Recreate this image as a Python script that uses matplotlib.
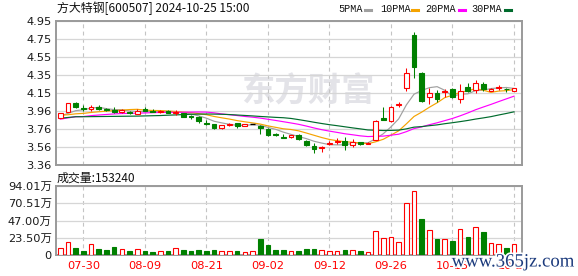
import matplotlib
matplotlib.use('Agg')
import matplotlib.pyplot as plt
import matplotlib.patheffects as pe
from matplotlib.patches import Rectangle
from matplotlib.lines import Line2D
import numpy as np

plt.rcParams['font.family'] = ['DejaVu Sans', 'Noto Sans CJK SC']

# ---------------- data ----------------
dates = ['07-25', '07-26', '07-29', '07-30', '07-31', '08-01', '08-02', '08-05', '08-06', '08-07',
         '08-08', '08-09', '08-12', '08-13', '08-14', '08-15', '08-16', '08-19', '08-20', '08-21',
         '08-22', '08-23', '08-26', '08-27', '08-28', '08-29', '08-30', '09-02', '09-03', '09-04',
         '09-05', '09-06', '09-09', '09-10', '09-11', '09-12', '09-13', '09-18', '09-19', '09-20',
         '09-23', '09-24', '09-25', '09-26', '09-27', '09-30', '10-08', '10-09', '10-10', '10-11',
         '10-14', '10-15', '10-16', '10-17', '10-18', '10-21', '10-22', '10-23', '10-24', '10-25']
tick_dates = ['07-30', '08-09', '08-21', '09-02', '09-12', '09-26', '10-15', '10-25']

opens = [3.882, 3.942, 4.048, 3.993, 3.975, 3.997, 3.975, 3.967, 3.945, 3.940,
         3.927, 3.982, 3.958, 3.949, 3.956, 3.938, 3.931, 3.898, 3.893, 3.827,
         3.813, 3.772, 3.802, 3.820, 3.791, 3.813, 3.791, 3.754, 3.699, 3.666,
         3.666, 3.688, 3.628, 3.573, 3.545, 3.592, 3.611, 3.628, 3.581, 3.611,
         3.592, 3.636, 3.879, 3.849, 4.027, 4.207, 4.795, 4.373, 4.114, 4.158,
         4.166, 4.196, 4.085, 4.225, 4.188, 4.254, 4.177, 4.210, 4.203, 4.180]
highs = [3.935, 4.045, 4.059, 4.019, 4.019, 4.017, 3.993, 3.997, 3.982, 3.953,
         3.973, 3.995, 3.975, 3.971, 3.967, 3.964, 3.938, 3.912, 3.898, 3.857,
         3.816, 3.805, 3.824, 3.827, 3.818, 3.816, 3.802, 3.765, 3.710, 3.699,
         3.695, 3.699, 3.633, 3.600, 3.567, 3.622, 3.661, 3.666, 3.644, 3.617,
         3.611, 3.854, 4.004, 4.011, 4.059, 4.428, 4.825, 4.390, 4.207, 4.188,
         4.196, 4.207, 4.251, 4.262, 4.299, 4.280, 4.210, 4.243, 4.207, 4.210]
lows = [3.875, 3.940, 3.990, 3.960, 3.960, 3.962, 3.951, 3.931, 3.934, 3.923,
        3.923, 3.951, 3.945, 3.938, 3.931, 3.915, 3.890, 3.871, 3.827, 3.802,
        3.758, 3.758, 3.791, 3.765, 3.787, 3.810, 3.699, 3.680, 3.680, 3.655,
        3.662, 3.636, 3.573, 3.496, 3.507, 3.581, 3.592, 3.526, 3.562, 3.586,
        3.589, 3.633, 3.857, 3.838, 4.004, 4.177, 4.324, 4.056, 4.030, 4.059,
        4.114, 4.097, 4.048, 4.170, 4.158, 4.180, 4.177, 4.188, 4.169, 4.180]
closes = [3.931, 4.041, 3.995, 3.975, 3.997, 3.978, 3.967, 3.942, 3.964, 3.929,
          3.960, 3.955, 3.950, 3.960, 3.938, 3.942, 3.893, 3.887, 3.849, 3.816,
          3.769, 3.802, 3.809, 3.794, 3.813, 3.813, 3.765, 3.691, 3.686, 3.658,
          3.691, 3.644, 3.578, 3.537, 3.562, 3.606, 3.628, 3.581, 3.617, 3.592,
          3.606, 3.849, 3.860, 3.997, 4.034, 4.373, 4.445, 4.067, 4.152, 4.089,
          4.172, 4.114, 4.180, 4.175, 4.262, 4.200, 4.202, 4.218, 4.196, 4.207]
# volume in 万手
volumes = [9.5, 17.7, 10.0, 5.9, 15.0, 8.6, 6.8, 10.9, 7.7, 5.9,
           8.2, 5.9, 4.1, 5.0, 5.4, 9.5, 6.8, 5.9, 6.8, 5.4,
           6.8, 5.4, 5.4, 5.4, 3.6, 5.4, 22.0, 13.6, 6.8, 6.8,
           5.4, 5.4, 8.2, 8.2, 6.8, 5.4, 5.4, 6.8, 6.8, 5.4,
           4.1, 32.7, 22.7, 24.1, 17.3, 71.3, 87.2, 49.0, 34.0, 21.8,
           21.8, 19.1, 35.4, 24.5, 37.7, 31.3, 15.9, 14.5, 9.5, 15.324]

ma5 = [3.900, 3.930, 3.960, 3.970, 3.988, 3.997, 3.982, 3.972, 3.970, 3.956,
       3.952, 3.950, 3.952, 3.951, 3.953, 3.949, 3.937, 3.924, 3.902, 3.877,
       3.843, 3.825, 3.809, 3.798, 3.797, 3.806, 3.799, 3.775, 3.754, 3.723,
       3.698, 3.674, 3.651, 3.622, 3.602, 3.585, 3.582, 3.583, 3.599, 3.605,
       3.605, 3.649, 3.705, 3.781, 3.869, 4.023, 4.142, 4.183, 4.214, 4.225,
       4.185, 4.119, 4.141, 4.146, 4.181, 4.186, 4.204, 4.211, 4.216, 4.205]
ma10 = [3.910, 3.915, 3.925, 3.930, 3.940, 3.948, 3.955, 3.960, 3.966, 3.972,
        3.975, 3.966, 3.962, 3.961, 3.955, 3.951, 3.944, 3.938, 3.927, 3.915,
        3.896, 3.881, 3.867, 3.850, 3.837, 3.825, 3.812, 3.792, 3.776, 3.760,
        3.752, 3.737, 3.713, 3.688, 3.663, 3.642, 3.628, 3.617, 3.611, 3.604,
        3.595, 3.616, 3.644, 3.690, 3.737, 3.814, 3.896, 3.944, 3.998, 4.047,
        4.104, 4.131, 4.162, 4.180, 4.203, 4.186, 4.162, 4.176, 4.181, 4.193]
ma20 = [3.866, 3.880, 3.893, 3.895, 3.905, 3.912, 3.918, 3.924, 3.928, 3.930,
        3.932, 3.935, 3.938, 3.940, 3.941, 3.942, 3.943, 3.944, 3.945, 3.944,
        3.936, 3.924, 3.915, 3.906, 3.896, 3.888, 3.878, 3.865, 3.852, 3.838,
        3.824, 3.809, 3.790, 3.769, 3.750, 3.734, 3.720, 3.705, 3.694, 3.682,
        3.674, 3.677, 3.679, 3.689, 3.700, 3.728, 3.762, 3.781, 3.805, 3.826,
        3.850, 3.874, 3.903, 3.935, 3.970, 4.000, 4.029, 4.060, 4.090, 4.120]
ma30 = [3.876, 3.885, 3.893, 3.893, 3.894, 3.895, 3.896, 3.897, 3.898, 3.899,
        3.900, 3.902, 3.904, 3.906, 3.910, 3.913, 3.917, 3.920, 3.922, 3.923,
        3.922, 3.920, 3.917, 3.912, 3.907, 3.902, 3.896, 3.891, 3.886, 3.882,
        3.874, 3.861, 3.847, 3.832, 3.818, 3.805, 3.794, 3.782, 3.770, 3.759,
        3.747, 3.744, 3.741, 3.742, 3.745, 3.759, 3.778, 3.784, 3.794, 3.803,
        3.816, 3.827, 3.839, 3.852, 3.867, 3.880, 3.894, 3.912, 3.929, 3.947]

price_tick_labels = ['3.36', '3.56', '3.76', '3.96', '4.15', '4.35', '4.55', '4.75', '4.95']
price_min, price_max = 3.36, 4.95
vol_ticks = [0, 23.50, 47.00, 70.51, 94.01]
vol_tick_labels = ['0', '23.50万', '47.00万', '70.51万', '94.01万']

title_text = '方大特钢[600507] 2024-10-25 15:00'
vol_text = '成交量:153240'
ma_names = ['5PMA', '10PMA', '20PMA', '30PMA']

# ---------------- style ----------------
RED = '#ff0000'
GREEN = '#008000'
MA_COLORS = ['#a0a0a0', '#f5a300', '#ff00ff', '#006b2d']
GRID = '#d6d6d6'
VGRID = '#c4c4c4'
SPINE = '#9a9a9a'

W, H = 578, 276
fig = plt.figure(figsize=(W / 100, H / 100), dpi=100)
L, R = 56 / W, 522 / W
ax1 = fig.add_axes([L, 1 - 165 / H, R - L, (165 - 21) / H])
ax2 = fig.add_axes([L, 1 - 255 / H, R - L, (255 - 186) / H])

n = len(closes)
x = np.arange(n)
tick_pos = [dates.index(d) for d in tick_dates]

# candles
bw = 0.62
for i in range(n):
    o, h, l, c = opens[i], highs[i], lows[i], closes[i]
    if c > o:
        col = RED
        face = 'white'
    elif c < o:
        col = GREEN
        face = GREEN
    else:
        col = 'black'
        face = 'black'
    ax1.vlines(i, l, h, color=col, lw=0.75, zorder=3)
    if abs(c - o) < 0.004:
        ax1.hlines((o + c) / 2, i - bw / 2, i + bw / 2, color=col, lw=1.0, zorder=4)
    else:
        ax1.add_patch(Rectangle((i - bw / 2, min(o, c)), bw, abs(c - o),
                                facecolor=face, edgecolor=col, lw=0.8, zorder=4))

for ma, colr in zip([ma5, ma10, ma20, ma30], MA_COLORS):
    ax1.plot(x, ma, color=colr, lw=0.85, zorder=2.5)

# volumes
vcols = []
for i in range(n):
    up = (closes[i] >= opens[i]) if i == 0 else (closes[i] >= closes[i - 1])
    vcols.append(up)
ax2.bar(x, volumes, width=0.6,
        color=['white' if u else GREEN for u in vcols],
        edgecolor=[RED if u else GREEN for u in vcols], lw=0.8, zorder=3)

# axes styling
for ax in (ax1, ax2):
    ax.set_xlim(-0.56, 60.04)
    ax.set_xticks(tick_pos)
    ax.grid(axis='x', color=VGRID, lw=0.8, ls=(0, (3.5, 3)), zorder=1)
    ax.grid(axis='y', color=GRID, lw=0.9, ls='-', zorder=1)
    ax.set_axisbelow(True)
    for s in ax.spines.values():
        s.set_color(SPINE)
        s.set_linewidth(1.4)
    ax.tick_params(length=0, labelsize=8.2, colors='#1a1a1a', pad=3)

ax1.set_ylim(price_min, price_max)
ax1.set_yticks(np.linspace(price_min, price_max, len(price_tick_labels)))
ax1.set_yticklabels(price_tick_labels)
ax1.set_xticklabels([])

ax2.set_ylim(0, vol_ticks[-1])
ax2.set_yticks(vol_ticks)
ax2.set_yticklabels(vol_tick_labels)
ax2.set_xticklabels(tick_dates)
ax2.tick_params(axis='x', colors=RED, pad=4)

# watermark
ax1.text(308 / W, 1 - 92 / H, '东方财富', transform=fig.transFigure,
         fontsize=24, color='#e3e3e8', weight='bold', ha='center', va='center',
         family=['Noto Sans CJK SC', 'DejaVu Sans'], zorder=0.5)

# title and labels
fig.text(57 / W, 1 - 8.5 / H, title_text, fontsize=8.6, color='#111111',
         ha='left', va='center', family=['Noto Sans CJK SC', 'DejaVu Sans'])
fig.text(57 / W, 1 - 178 / H, vol_text, fontsize=8.6, color='#111111',
         ha='left', va='center', family=['Noto Sans CJK SC', 'DejaVu Sans'])

# legend
leg_x = [338, 380.7, 425.3, 471.3]
dash_x = [365, 412, 459, 504.5]
for name, lx, dx, colr in zip(ma_names, leg_x, dash_x, MA_COLORS):
    fig.text(lx / W, 1 - 8.7 / H, name, fontsize=7.3, color='#111111',
             ha='left', va='center', family='Liberation Mono')
    fig.add_artist(Line2D([dx / W, (dx + 6) / W], [1 - 9.5 / H, 1 - 9.5 / H],
                          color=colr, lw=2.2, transform=fig.transFigure))

# site watermark
fig.text(513 / W, 1 - 262 / H, 'www.365jz.com', fontsize=13.5, color='#1b3a7c',
         ha='center', va='center', family='Liberation Serif',
         path_effects=[pe.withStroke(linewidth=2.5, foreground='white')])

fig.savefig('out.png', dpi=100)
